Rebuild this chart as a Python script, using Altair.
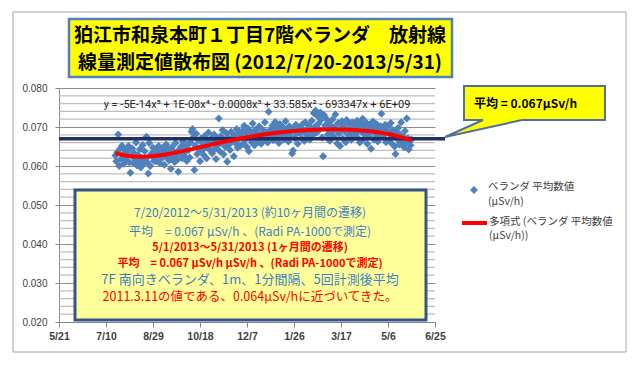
import json
import altair as alt
import pandas as pd

JP = "Noto Sans CJK JP"
LAT = "Liberation Sans"

# ---- data: daily average values (uSv/h), 2012-07-20 .. 2013-05-31 (Excel serial dates)
start_serial = 41110  # 2012-07-20
jul = [0.0627, 0.0612, 0.0635, 0.0681, 0.0600, 0.0644, 0.0618, 0.0652, 0.0629, 0.0606, 0.0641, 0.0623]
aug = [0.0614, 0.0637, 0.0651, 0.0609, 0.0583, 0.0626, 0.0645, 0.0608, 0.0633, 0.0619, 0.0660, 0.0601,
       0.0628, 0.0612, 0.0643, 0.0596, 0.0621, 0.0654, 0.0606, 0.0638, 0.0617, 0.0675, 0.0609, 0.0581,
       0.0659, 0.0600, 0.0631, 0.0625, 0.0647, 0.0613, 0.0636]
sep = [0.0612, 0.0640, 0.0625, 0.0651, 0.0608, 0.0633, 0.0619, 0.0646, 0.0627, 0.0603, 0.0638, 0.0655,
       0.0621, 0.0642, 0.0614, 0.0630, 0.0593, 0.0648, 0.0624, 0.0637, 0.0610, 0.0659, 0.0628, 0.0616,
       0.0585, 0.0643, 0.0632, 0.0650, 0.0620, 0.0663]
oct = [0.0626, 0.0648, 0.0637, 0.0613, 0.0655, 0.0641, 0.0622, 0.0660, 0.0688, 0.0695, 0.0674, 0.0590,
       0.0652, 0.0683, 0.0631, 0.0666, 0.0645, 0.0612, 0.0670, 0.0639, 0.0657, 0.0628, 0.0677, 0.0648,
       0.0619, 0.0664, 0.0686, 0.0642, 0.0655, 0.0671, 0.0633]
nov = [0.0662, 0.0681, 0.0645, 0.0618, 0.0670, 0.0653, 0.0722, 0.0638, 0.0676, 0.0659, 0.0692, 0.0630,
       0.0667, 0.0649, 0.0684, 0.0611, 0.0672, 0.0655, 0.0641, 0.0688, 0.0663, 0.0674, 0.0625, 0.0679,
       0.0658, 0.0695, 0.0647, 0.0669, 0.0686, 0.0652]
dec = [0.0675, 0.0690, 0.0658, 0.0703, 0.0667, 0.0684, 0.0649, 0.0696, 0.0638, 0.0672, 0.0688, 0.0661,
       0.0709, 0.0679, 0.0653, 0.0693, 0.0670, 0.0685, 0.0662, 0.0701, 0.0676, 0.0657, 0.0694, 0.0681,
       0.0668, 0.0712, 0.0673, 0.0687, 0.0660, 0.0739, 0.0683]
jan = [0.0692, 0.0678, 0.0704, 0.0666, 0.0689, 0.0713, 0.0672, 0.0697, 0.0684, 0.0659, 0.0708, 0.0691,
       0.0675, 0.0700, 0.0668, 0.0686, 0.0715, 0.0680, 0.0694, 0.0663, 0.0702, 0.0677, 0.0688, 0.0632,
       0.0640, 0.0696, 0.0671, 0.0706, 0.0683, 0.0657, 0.0699]
feb = [0.0685, 0.0698, 0.0671, 0.0707, 0.0690, 0.0664, 0.0712, 0.0681, 0.0695, 0.0676, 0.0703, 0.0668,
       0.0689, 0.0716, 0.0679, 0.0735, 0.0700, 0.0742, 0.0686, 0.0728, 0.0709, 0.0693, 0.0737, 0.0719,
       0.0673, 0.0625, 0.0731, 0.0704]
mar = [0.0722, 0.0697, 0.0681, 0.0713, 0.0665, 0.0704, 0.0688, 0.0719, 0.0676, 0.0700, 0.0732, 0.0692,
       0.0658, 0.0710, 0.0683, 0.0651, 0.0697, 0.0715, 0.0670, 0.0706, 0.0689, 0.0661, 0.0718, 0.0694,
       0.0678, 0.0709, 0.0686, 0.0667, 0.0712, 0.0698, 0.0675]
apr = [0.0703, 0.0684, 0.0716, 0.0672, 0.0695, 0.0660, 0.0708, 0.0687, 0.0721, 0.0669, 0.0699, 0.0680,
       0.0711, 0.0657, 0.0693, 0.0676, 0.0705, 0.0644, 0.0689, 0.0714, 0.0668, 0.0698, 0.0682, 0.0707,
       0.0663, 0.0691, 0.0675, 0.0702, 0.0734, 0.0679]
may = [0.0694, 0.0672, 0.0706, 0.0661, 0.0688, 0.0701, 0.0667, 0.0683, 0.0710, 0.0658, 0.0692, 0.0676,
       0.0650, 0.0631, 0.0687, 0.0669, 0.0698, 0.0655, 0.0680, 0.0712, 0.0663, 0.0675, 0.0648, 0.0690,
       0.0659, 0.0722, 0.0671, 0.0642, 0.0665, 0.0653, 0.0668]

mean_value = 0.067

x_tick_values = [41050, 41100, 41150, 41200, 41250, 41300, 41350, 41400, 41450]
x_tick_labels = ["5/21", "7/10", "8/29", "10/18", "12/7", "1/26", "3/17", "5/6", "6/25"]
y_tick_values = [0.02, 0.03, 0.04, 0.05, 0.06, 0.07, 0.08]
y_minor_values = [0.022, 0.024, 0.026, 0.028, 0.032, 0.034, 0.036, 0.038, 0.042, 0.044, 0.046, 0.048,
                  0.052, 0.054, 0.056, 0.058, 0.062, 0.064, 0.066, 0.068, 0.072, 0.074, 0.076, 0.078]

title_lines = ["狛江市和泉本町１丁目7階ベランダ　放射線", "線量測定値散布図 (2012/7/20-2013/5/31)"]
equation = "y = -5E-14x\u2075 + 1E-08x\u2074 - 0.0008x\u00b3 + 33.585x\u00b2 - 693347x + 6E+09"
callout_text = "平均 = 0.067µSv/h"
box_lines = [
    ("7/20/2012～5/31/2013 (約10ヶ月間の遷移)", "#3c7fc4", "normal", 12),
    ("平均　= 0.067 µSv/h 、(Radi PA-1000で測定)", "#3c7fc4", "normal", 12),
    ("5/1/2013～5/31/2013 (1ヶ月間の遷移)", "#ff0000", "bold", 11),
    ("平均　= 0.067 µSv/h µSv/h 、(Radi PA-1000で測定)", "#ff0000", "bold", 11),
    ("7F 南向きベランダ、1m、1分間隔、5回計測後平均", "#3c7fc4", "normal", 13),
    ("2011.3.11の値である、0.064µSv/hに近づいてきた。", "#ff0000", "normal", 12.5),
]
legend_series = ["ベランダ 平均数値", "(µSv/h)"]
legend_trend = ["多項式 (ベランダ 平均数値", "(µSv/h))"]

values = jul + aug + sep + oct + nov + dec + jan + feb + mar + apr + may
df = pd.DataFrame({"serial": list(range(start_serial, start_serial + len(values))), "val": values})
one = pd.DataFrame({"k": [0]})

W, H = 376, 234
x_scale = alt.Scale(domain=[x_tick_values[0], x_tick_values[-1]], nice=False, zero=False)
y_scale = alt.Scale(domain=[y_tick_values[0], y_tick_values[-1]], nice=False, zero=False)

label_expr = f"{json.dumps(x_tick_labels)}[indexof({json.dumps(x_tick_values)}, datum.value)]"

x_axis = alt.Axis(values=x_tick_values, labelExpr=label_expr, grid=False,
                  labelFont=LAT, labelFontSize=10.5, labelFontWeight="bold",
                  labelColor="#404040", domainColor="#868686", tickColor="#868686",
                  tickSize=5, labelPadding=4, labelFlush=False, labelOverlap=False)
y_axis = alt.Axis(values=y_tick_values, format=".3f", grid=True, gridColor="#8c8c8c",
                  labelFont=LAT, labelFontSize=10, labelColor="#404040",
                  domainColor="#868686", tickColor="#868686", tickSize=4, labelPadding=8,
                  labelOverlap=False, labelFlush=False)


def X(field):
    return alt.X(field, scale=x_scale, axis=x_axis, title=None)


def Y(field):
    return alt.Y(field, scale=y_scale, axis=y_axis, title=None)


def rect(x, x2, y, y2, fill, stroke, sw, fo=1.0):
    return alt.Chart(one).mark_rect(fill=fill, fillOpacity=fo, stroke=stroke, strokeWidth=sw).encode(
        x=alt.value(x), x2=alt.value(x2), y=alt.value(y), y2=alt.value(y2))


def txt(text, x, y, size, color, weight="normal", align="center", font=JP):
    return alt.Chart(one).mark_text(text=text, fontSize=size, color=color, fontWeight=weight,
                                    align=align, baseline="middle", font=font).encode(
        x=alt.value(x), y=alt.value(y))


frame = rect(-46, 567, -76, 264, "white", "#a6a6a6", 1, 0)
title_box = rect(10, 393, -69, -11, "#ffff00", "#4f81bd", 2.5)
title_t1 = txt(title_lines[0], 201, -52, 19, "#000000", "bold")
title_t2 = txt(title_lines[1], 201, -25, 19, "#000000", "bold")

minor = alt.Chart(pd.DataFrame({"val": y_minor_values})).mark_rule(color="#bdbdbd", strokeWidth=1.2).encode(
    y=Y("val:Q"), x=alt.value(0), x2=alt.value(W))

points = alt.Chart(df).mark_point(shape="diamond", filled=True, size=64, color="#4f81bd", opacity=1).encode(
    x=X("serial:Q"), y=Y("val:Q"))

mean_rule = alt.Chart(pd.DataFrame({"val": [mean_value]})).mark_rule(color="#1f2f5f", strokeWidth=3.5).encode(
    y=Y("val:Q"), x=alt.value(0), x2=alt.value(386))

trend = alt.Chart(df).transform_regression("serial", "val", method="poly", order=5).mark_line(
    color="#ff0000", strokeWidth=4).encode(x=X("serial:Q"), y=Y("val:Q"))

eq = txt(equation, 198, 17, 11, "#262626", font="Roboto")

text_box = rect(16, 367, 102, 232, "#ffff99", "#34548c", 3)
box_ys = [125, 143.5, 159.5, 175.5, 191.5, 209]
box_texts = [txt(t, 191, yy, s, c, w) for (t, c, w, s), yy in zip(box_lines, box_ys)]

callout_path = ("M -0.61 -0.24 L 0.80 -0.24 L 0.80 0.10 L -0.03 0.10 L -0.80 0.27 "
                "L -0.42 0.10 L -0.61 0.10 Z")
callout = alt.Chart(one).mark_point(shape=callout_path, size=40000, filled=True, fill="#ffff00",
                                    stroke="#4f6fa0", strokeWidth=2, opacity=1).encode(
    x=alt.value(466), y=alt.value(22))
callout_t = txt(callout_text, 415, 16, 12, "#000000", "bold", align="left")

leg_pt = alt.Chart(one).mark_point(shape="diamond", filled=True, size=64, color="#4f81bd", opacity=1).encode(
    x=alt.value(415), y=alt.value(102))
leg_t1 = txt(legend_series[0], 429, 99, 10.5, "#404040", align="left")
leg_t2 = txt(legend_series[1], 429, 114, 10.5, "#404040", align="left")
leg_line = alt.Chart(one).mark_rule(color="#ff0000", strokeWidth=4).encode(
    x=alt.value(403), x2=alt.value(428), y=alt.value(135))
leg_t3 = txt(legend_trend[0], 430, 134, 10.5, "#404040", align="left")
leg_t4 = txt(legend_trend[1], 430, 148, 10.5, "#404040", align="left")

chart = alt.layer(
    frame, title_box, title_t1, title_t2, minor, points, mean_rule, trend, eq,
    text_box, *box_texts, callout, callout_t, leg_pt, leg_t1, leg_t2, leg_line, leg_t3, leg_t4
).properties(
    width=W, height=H,
    autosize=alt.AutoSizeParams(type="none"),
    padding={"left": 51, "top": 80, "right": 197, "bottom": 41},
    background="white",
).configure_view(strokeWidth=0)

chart.save("out.html", embed_options={"renderer": "svg", "actions": False})
